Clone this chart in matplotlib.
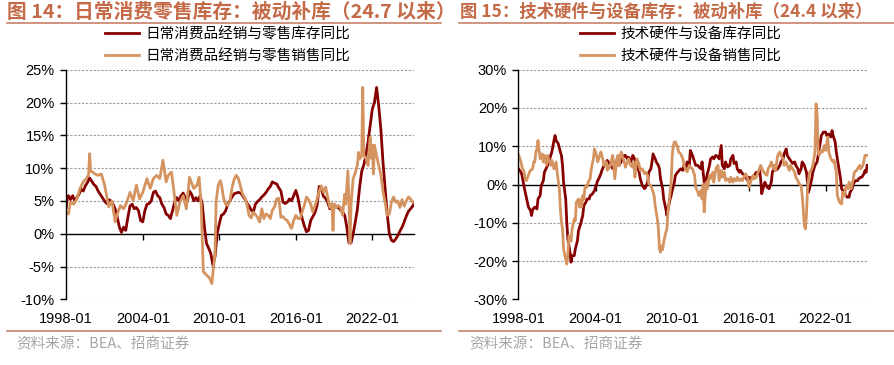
import matplotlib
matplotlib.use("Agg")
import matplotlib.pyplot as plt
from matplotlib.lines import Line2D

plt.rcParams['font.family'] = ['Liberation Sans', 'Noto Sans CJK SC', 'DejaVu Sans']
CJK = ['Noto Sans CJK SC', 'DejaVu Sans']

# x 轴：自 1998-01 起的月份序号（0 = 1998-01，327 = 2025-04）
tick_months = [0, 72, 144, 216, 288]
tick_labels = ["1998-01", "2004-01", "2010-01", "2016-01", "2022-01"]

# 图 14：日常消费品经销与零售（同比，%），(月份序号, 数值)
inv14 = [(0, 4.0), (1, 5.5), (2, 5.8), (4, 5.2), (6, 5.8), (8, 5.0), (10, 5.5), (12, 6.0),
         (14, 6.8), (16, 6.5), (18, 7.3), (20, 7.8), (22, 8.5), (24, 8.0), (26, 7.5), (28, 7.2),
         (30, 6.5), (32, 6.0), (34, 5.5), (36, 5.0), (38, 4.6), (40, 5.2), (42, 5.0), (44, 4.5),
         (46, 3.8), (48, 2.5), (50, 1.0), (52, 0.2), (54, 1.0), (56, 0.5), (58, 2.5), (60, 4.2),
         (62, 4.5), (64, 3.8), (66, 4.0), (68, 3.5), (70, 2.0), (72, 1.8), (74, 3.5), (76, 4.5),
         (78, 4.6), (80, 5.0), (82, 6.3), (84, 6.5), (86, 5.8), (88, 5.5), (90, 4.5), (92, 4.0),
         (94, 3.0), (96, 2.8), (98, 2.3), (100, 3.5), (102, 4.8), (104, 5.5), (106, 5.0), (108, 5.8),
         (110, 6.2), (112, 5.5), (114, 5.0), (116, 6.5), (118, 6.0), (120, 5.0), (122, 5.5), (124, 5.0),
         (126, 5.8), (128, 4.5), (130, 1.0), (132, -1.5), (134, -2.2), (136, -3.0), (138, -4.8), (140, -3.5),
         (142, 0.0), (144, 1.5), (146, 2.8), (148, 3.0), (150, 3.5), (152, 4.5), (154, 5.0), (156, 5.6),
         (158, 6.1), (160, 6.2), (162, 6.3), (164, 6.2), (166, 5.8), (168, 5.3), (170, 4.7), (172, 4.2),
         (174, 3.6), (176, 3.3), (178, 4.5), (180, 4.9), (182, 5.2), (184, 5.6), (186, 5.9), (188, 6.3),
         (190, 6.8), (192, 7.2), (194, 7.9), (196, 7.7), (198, 7.6), (200, 7.0), (202, 6.5), (204, 4.8),
         (206, 4.6), (208, 4.8), (210, 5.3), (212, 5.0), (214, 5.8), (216, 6.6), (218, 5.5), (220, 3.8),
         (222, 2.3), (224, 1.2), (226, 0.3), (228, 0.5), (230, 2.0), (232, 2.6), (234, 3.2), (236, 4.3),
         (238, 7.2), (240, 6.8), (242, 5.7), (244, 5.4), (246, 4.8), (248, 3.8), (250, 4.4), (252, 4.5),
         (254, 4.1), (256, 4.0), (258, 3.6), (260, 3.3), (262, 2.8), (264, 1.0), (266, -1.4), (268, -1.4),
         (270, 0.0), (272, 1.8), (274, 3.8), (276, 7.0), (278, 9.5), (280, 10.5), (282, 12.0), (284, 14.0),
         (286, 16.5), (288, 19.0), (290, 20.0), (292, 22.3), (294, 19.5), (296, 16.0), (298, 11.0), (300, 7.0),
         (302, 3.0), (304, 0.0), (306, -1.0), (308, -1.2), (310, -0.8), (312, -0.3), (314, 0.4), (316, 1.0),
         (318, 1.8), (320, 2.7), (322, 3.4), (324, 3.8), (326, 4.2), (327, 4.5)]

sales14 = [(0, 3.3), (2, 3.0), (4, 4.8), (7, 4.5), (10, 5.3), (13, 6.9), (16, 7.9), (19, 8.4),
           (21, 9.0), (22, 12.2), (23, 9.5), (25, 9.4), (27, 9.1), (30, 8.9), (33, 9.1), (36, 7.5),
           (38, 5.8), (40, 4.1), (43, 5.0), (46, 1.8), (48, 3.0), (51, 4.3), (54, 3.8), (57, 4.8),
           (60, 6.3), (63, 5.0), (66, 7.4), (69, 5.3), (72, 6.3), (76, 8.4), (79, 6.9), (82, 8.4),
           (85, 8.9), (88, 8.4), (91, 11.2), (94, 7.9), (96, 8.9), (99, 9.4), (101, 6.9), (104, 2.8),
           (107, 4.8), (110, 5.8), (113, 3.8), (116, 8.6), (120, 6.9), (123, 7.4), (125, 8.6), (127, 4.3),
           (129, -5.8), (132, -6.3), (135, -6.8), (137, -7.6), (140, -3.0), (141, 4.8), (143, 7.4), (145, 8.1),
           (146, 7.5), (148, 5.5), (150, 4.5), (152, 4.3), (154, 5.0), (156, 7.0), (158, 8.3), (160, 8.9),
           (162, 8.4), (164, 7.2), (166, 6.0), (168, 5.5), (170, 4.5), (172, 2.8), (174, 2.4), (176, 3.3),
           (178, 2.9), (180, 2.5), (182, 1.8), (184, 3.8), (186, 2.3), (188, 3.0), (190, 2.8), (192, 2.3),
           (194, 3.6), (196, 4.1), (198, 5.3), (200, 5.4), (202, 2.5), (204, 2.6), (206, 2.2), (208, 2.0),
           (210, 1.4), (212, 0.8), (214, 2.0), (216, 2.8), (218, 2.3), (220, 2.3), (222, 3.3), (224, 4.3),
           (226, 5.6), (228, 5.2), (230, 4.5), (232, 3.3), (234, 4.2), (236, 5.3), (238, 6.5), (240, 7.3),
           (242, 6.3), (244, 7.1), (246, 5.6), (248, 4.0), (250, 4.6), (251, 0.5), (252, 4.5), (254, 4.0),
           (256, 4.3), (258, 4.0), (260, 2.8), (262, 6.0), (263, 4.5), (265, 9.6), (266, 5.0), (267, -1.5),
           (268, 4.5), (270, 8.4), (272, 9.3), (274, 10.5), (275, 12.4), (276, 11.4), (278, 11.8), (279, 22.3),
           (280, 12.0), (282, 11.5), (284, 10.4), (285, 13.0), (286, 14.7), (287, 11.5), (288, 13.5), (289, 9.1),
           (290, 13.5), (292, 11.9), (294, 10.4), (296, 9.0), (298, 6.5), (300, 4.8), (302, 2.8), (304, 3.0),
           (306, 4.8), (308, 5.6), (310, 4.8), (312, 5.0), (314, 4.0), (316, 5.2), (318, 4.2), (320, 5.0),
           (322, 5.6), (324, 5.3), (326, 4.8), (327, 4.8)]

# 图 15：技术硬件与设备（同比，%）
inv15 = [(0, 4.0), (2, 3.2), (3, 2.4), (5, -0.7), (6, -2.0), (8, -4.6), (9, -5.9), (11, -6.8),
         (12, -8.1), (13, -6.5), (15, -5.9), (17, -6.4), (18, -3.8), (20, -2.9), (21, -0.3), (23, 1.0),
         (24, 3.2), (27, 5.0), (28, 5.9), (30, 7.6), (31, 8.5), (33, 11.5), (34, 12.8), (35, 11.5),
         (37, 10.7), (39, 8.5), (40, 7.6), (41, 5.0), (42, 0.6), (44, -3.8), (45, -9.9), (46, -14.2),
         (48, -17.7), (49, -20.3), (50, -18.6), (52, -18.6), (53, -16.9), (55, -14.7), (56, -12.1), (58, -10.3),
         (60, -8.1), (61, -5.5), (63, -4.6), (64, -3.8), (66, -3.8), (67, -2.9), (69, -2.5), (71, -1.6),
         (72, -0.7), (74, 1.0), (75, 1.5), (77, 2.8), (78, 3.7), (80, 5.0), (82, 5.9), (83, 6.3),
         (85, 5.5), (86, 5.0), (88, 4.2), (89, 4.6), (91, 5.9), (92, 5.5), (94, 5.0), (96, 5.9),
         (97, 6.7), (99, 7.6), (100, 7.6), (102, 6.7), (103, 7.1), (105, 5.9), (107, 7.6), (108, 7.1),
         (110, 5.5), (111, 5.0), (113, 3.2), (114, 1.5), (116, -0.3), (118, -1.1), (119, -0.7), (121, 0.6),
         (122, 3.2), (124, 4.1), (125, 5.9), (126, 8.0), (128, 6.7), (129, 5.9), (131, 5.0), (132, 4.1),
         (133, 1.5), (135, -1.1), (136, -3.8), (138, -6.4), (139, -8.1), (140, -6.5), (142, -3.8), (143, -2.9),
         (144, -1.5), (146, 0.6), (147, 2.4), (149, 3.2), (152, 4.1), (154, 3.7), (155, 5.0), (157, 4.6),
         (158, 5.9), (160, 4.6), (161, 8.9), (163, 7.6), (165, 5.9), (166, 5.0), (168, 5.0), (169, 4.6),
         (171, 4.1), (172, 5.9), (174, 0.6), (176, 1.5), (177, 2.8), (179, 5.0), (180, 6.7), (182, 7.2),
         (183, 6.7), (185, 7.6), (187, 7.2), (188, 6.7), (190, 10.2), (191, 5.0), (193, 4.1), (194, 5.9),
         (196, 4.6), (198, 5.0), (199, 6.7), (201, 7.6), (202, 5.5), (204, 5.9), (205, 4.1), (207, 3.2),
         (208, 3.7), (210, 2.8), (212, 2.4), (213, 1.9), (215, 1.0), (216, 1.9), (218, 1.5), (219, 1.9),
         (221, 2.4), (223, 3.2), (224, 2.8), (226, 3.7), (227, 1.5), (228, -2.4), (230, -0.3), (231, 0.6),
         (233, -0.7), (235, -1.1), (237, 0.6), (238, 3.2), (240, 4.5), (241, 3.7), (243, 4.1), (245, 5.0),
         (246, 5.9), (248, 6.7), (249, 8.0), (251, 9.3), (252, 7.6), (254, 6.7), (256, 5.9), (257, 5.5),
         (259, 5.9), (260, 5.0), (262, 4.1), (263, 2.8), (265, 4.1), (266, 5.9), (268, 5.0), (270, 3.2),
         (271, 0.6), (272, -2.0), (274, 0.2), (275, 1.5), (276, 3.2), (278, 5.0), (280, 5.9), (281, 7.6),
         (283, 11.1), (284, 12.8), (286, 13.7), (288, 13.7), (289, 12.8), (291, 13.2), (293, 12.4), (294, 14.1),
         (295, 12.8), (297, 11.1), (298, 8.5), (300, 5.0), (302, 1.5), (303, -1.1), (305, -2.0), (307, -2.9),
         (308, -3.3), (310, -3.3), (311, -2.0), (313, -1.1), (314, 0.2), (316, 1.0), (318, 1.0), (319, 1.5),
         (321, 1.9), (322, 1.9), (324, 2.8), (325, 3.7), (326, 3.2), (327, 5.0)]

sales15 = [(0, 7.6), (2, 5.9), (3, 4.5), (5, 3.2), (6, 1.5), (7, 1.0), (9, 2.4), (10, 3.2),
           (11, 3.7), (13, 4.1), (14, 5.9), (15, 5.9), (16, 8.5), (17, 9.3), (18, 11.5), (19, 8.9),
           (20, 6.7), (22, 8.0), (23, 5.9), (24, 7.6), (26, 5.0), (27, 7.6), (29, 5.9), (30, 5.0),
           (31, 6.3), (33, 4.1), (35, 5.9), (36, 3.2), (38, -1.1), (39, -6.4), (40, -9.9), (41, -11.6),
           (42, -16.9), (44, -19.5), (45, -20.8), (46, -18.6), (47, -13.4), (49, -14.8), (50, -11.6), (52, -9.0),
           (53, -9.5), (54, -4.6), (56, -3.8), (57, -5.9), (58, -4.0), (59, -5.9), (60, -2.9), (61, -3.8),
           (62, -1.1), (63, -0.3), (64, -0.7), (65, 0.6), (67, 1.5), (68, 4.1), (70, 6.7), (71, 9.3),
           (73, 7.6), (74, 5.9), (75, 6.7), (77, 8.5), (78, 7.6), (80, 5.0), (82, 5.9), (83, 3.7),
           (85, 4.5), (86, 5.0), (88, 7.6), (89, 5.9), (90, 1.5), (92, 6.7), (93, 7.6), (94, 5.0),
           (96, 8.5), (97, 7.6), (99, 5.9), (100, 4.5), (102, 5.9), (103, 6.7), (105, 5.0), (107, 4.5),
           (108, 5.9), (109, 1.9), (110, 5.0), (111, 6.7), (113, 5.0), (114, 3.7), (116, 4.1), (118, 2.8),
           (119, 3.2), (121, 2.4), (122, 0.2), (124, -0.3), (125, -1.1), (127, -2.9), (128, -5.5), (130, -9.0),
           (131, -11.6), (132, -16.9), (133, -17.7), (134, -16.0), (135, -17.0), (136, -15.1), (138, -12.5), (139, -11.6),
           (140, -7.2), (141, -4.6), (143, 0.6), (144, 7.6), (145, 10.2), (146, 11.1), (147, 11.1), (149, 9.8),
           (150, 8.5), (152, 8.0), (154, 6.7), (155, 5.0), (157, 3.7), (158, 3.3), (160, 5.0), (161, 4.6),
           (163, 4.1), (165, 2.4), (166, -0.7), (168, -2.0), (169, -2.9), (171, -1.5), (172, -3.8), (173, 0.0),
           (174, -7.2), (175, -2.9), (176, 0.6), (177, -1.1), (179, 2.4), (180, 1.5), (182, 3.2), (183, 0.6),
           (185, 4.1), (187, 5.0), (188, 1.0), (190, 3.7), (191, 1.9), (193, 3.2), (194, 1.0), (196, 1.5),
           (198, 0.6), (199, 1.9), (201, 0.6), (202, 1.5), (204, 1.0), (205, 1.9), (207, 1.0), (209, 1.5),
           (210, 1.0), (212, 2.4), (213, 2.8), (215, 1.5), (216, -0.7), (218, 1.0), (220, 2.4), (221, 1.5),
           (223, 1.9), (224, 2.8), (226, 4.1), (227, 5.0), (229, 3.7), (231, 2.8), (233, 2.4), (234, 4.1),
           (236, 5.0), (237, 5.9), (239, 4.1), (240, 5.0), (241, 3.7), (243, 7.6), (245, 8.5), (246, 7.6),
           (248, 6.7), (249, 5.0), (251, 5.9), (252, 5.0), (254, 3.7), (255, 5.0), (257, 4.1), (259, 3.2),
           (260, 1.9), (262, 1.0), (263, 0.2), (265, -0.3), (266, -2.9), (267, -6.4), (268, -10.7), (269, -11.6),
           (270, -8.1), (271, -1.1), (272, 1.5), (273, 3.2), (275, 4.1), (276, 5.0), (277, 6.7), (278, 8.5),
           (279, 21.1), (280, 18.1), (281, 8.5), (282, 7.6), (284, 8.9), (285, 8.5), (287, 10.2), (288, 8.9),
           (290, 12.4), (291, 8.5), (293, 6.7), (295, 5.9), (296, 6.3), (298, 3.2), (299, -2.9), (301, -4.6),
           (303, -5.1), (304, -2.0), (306, -2.9), (307, -0.3), (309, -1.1), (310, 0.6), (312, -1.1), (314, 1.5),
           (315, 3.2), (317, 3.7), (318, 4.1), (320, 5.0), (321, 4.1), (323, 5.0), (325, 7.6), (326, 7.6),
           (327, 7.6)]

title14 = "图 14：日常消费零售库存：被动补库（24.7 以来）"
title15 = "图 15：技术硬件与设备库存：被动补库（24.4 以来）"
legend14 = ["日常消费品经销与零售库存同比", "日常消费品经销与零售销售同比"]
legend15 = ["技术硬件与设备库存同比", "技术硬件与设备销售同比"]
yticks14 = [-10, -5, 0, 5, 10, 15, 20, 25]
yticks15 = [-30, -20, -10, 0, 10, 20, 30]
source = "资料来源：BEA、招商证券"

C_INV = "#870000"
C_SALES = "#D4935F"
C_TITLE = "#C46A47"
C_RULE = "#C8826A"

W, H = 894, 365
fig = plt.figure(figsize=(W / 100, H / 100), dpi=100)


def fx(px):
    return px / W


def fy(py):
    return 1 - py / H


def panel(x0, x1, inv, sales, yticks, title, title_size, labels, leg_x, rule_x0, rule_x1):
    ax = fig.add_axes([fx(x0), fy(299.3), fx(x1 - x0), fy(69.7) - fy(299.3)])
    m1, v1 = zip(*inv)
    m2, v2 = zip(*sales)
    l1, = ax.plot(m1, v1, color=C_INV, lw=2.0, solid_joinstyle='round')
    l2, = ax.plot(m2, v2, color=C_SALES, lw=2.0, solid_joinstyle='round')

    ax.set_xlim(-0.5, 327.5)
    ax.set_ylim(yticks[0], yticks[-1])
    ax.set_yticks(yticks)
    ax.set_yticklabels([f"{t}%" for t in yticks])
    ax.tick_params(axis='y', length=4, width=1, pad=4, labelsize=10.5, colors='black')

    for t in yticks:
        if t != 0:
            ax.axhline(t, color='#9A9A9A', lw=0.8, ls=(0, (2, 1.5)), zorder=0)

    ax.set_xticks(tick_months)
    ax.set_xticklabels(tick_labels)
    ax.tick_params(axis='x', length=0, pad=9, labelsize=10.5)
    for s in ['top', 'right', 'bottom']:
        ax.spines[s].set_visible(False)
    ax.spines['left'].set_linewidth(1)

    zero = ax.secondary_xaxis(0, transform=ax.transData)
    zero.set_xticks(tick_months[1:])
    zero.tick_params(length=4, width=1, labelbottom=False)
    zero.spines['bottom'].set_linewidth(1)

    fig.text(fx(rule_x0 + 0.5), fy(12), title, fontsize=title_size, fontweight='bold',
             color=C_TITLE, family=CJK, va='center')
    fig.add_artist(Line2D([fx(rule_x0), fx(rule_x1)], [fy(23.3)] * 2, color=C_RULE, lw=1.2))
    fig.add_artist(Line2D([fx(rule_x0), fx(rule_x1)], [fy(331)] * 2, color=C_RULE, lw=1.2))
    fig.text(fx(rule_x0 + 10), fy(344), source, fontsize=10.5, color='#A6A6A6',
             family=CJK, va='center')

    fig.legend([l1, l2], labels, loc='upper left', bbox_to_anchor=(fx(leg_x), fy(27)),
               bbox_transform=fig.transFigure, frameon=False, borderpad=0, borderaxespad=0,
               handlelength=2.3, handletextpad=0.45, labelspacing=0.55,
               prop={'family': CJK, 'size': 10.5})
    return ax


panel(65.7, 414.3, inv14, sales14, yticks14, title14, 14.2, legend14, 105, 6.5, 441)
panel(518.3, 867.7, inv15, sales15, yticks15, title15, 12.5, legend15, 580, 459, 894)

fig.savefig("out.png", dpi=100)
